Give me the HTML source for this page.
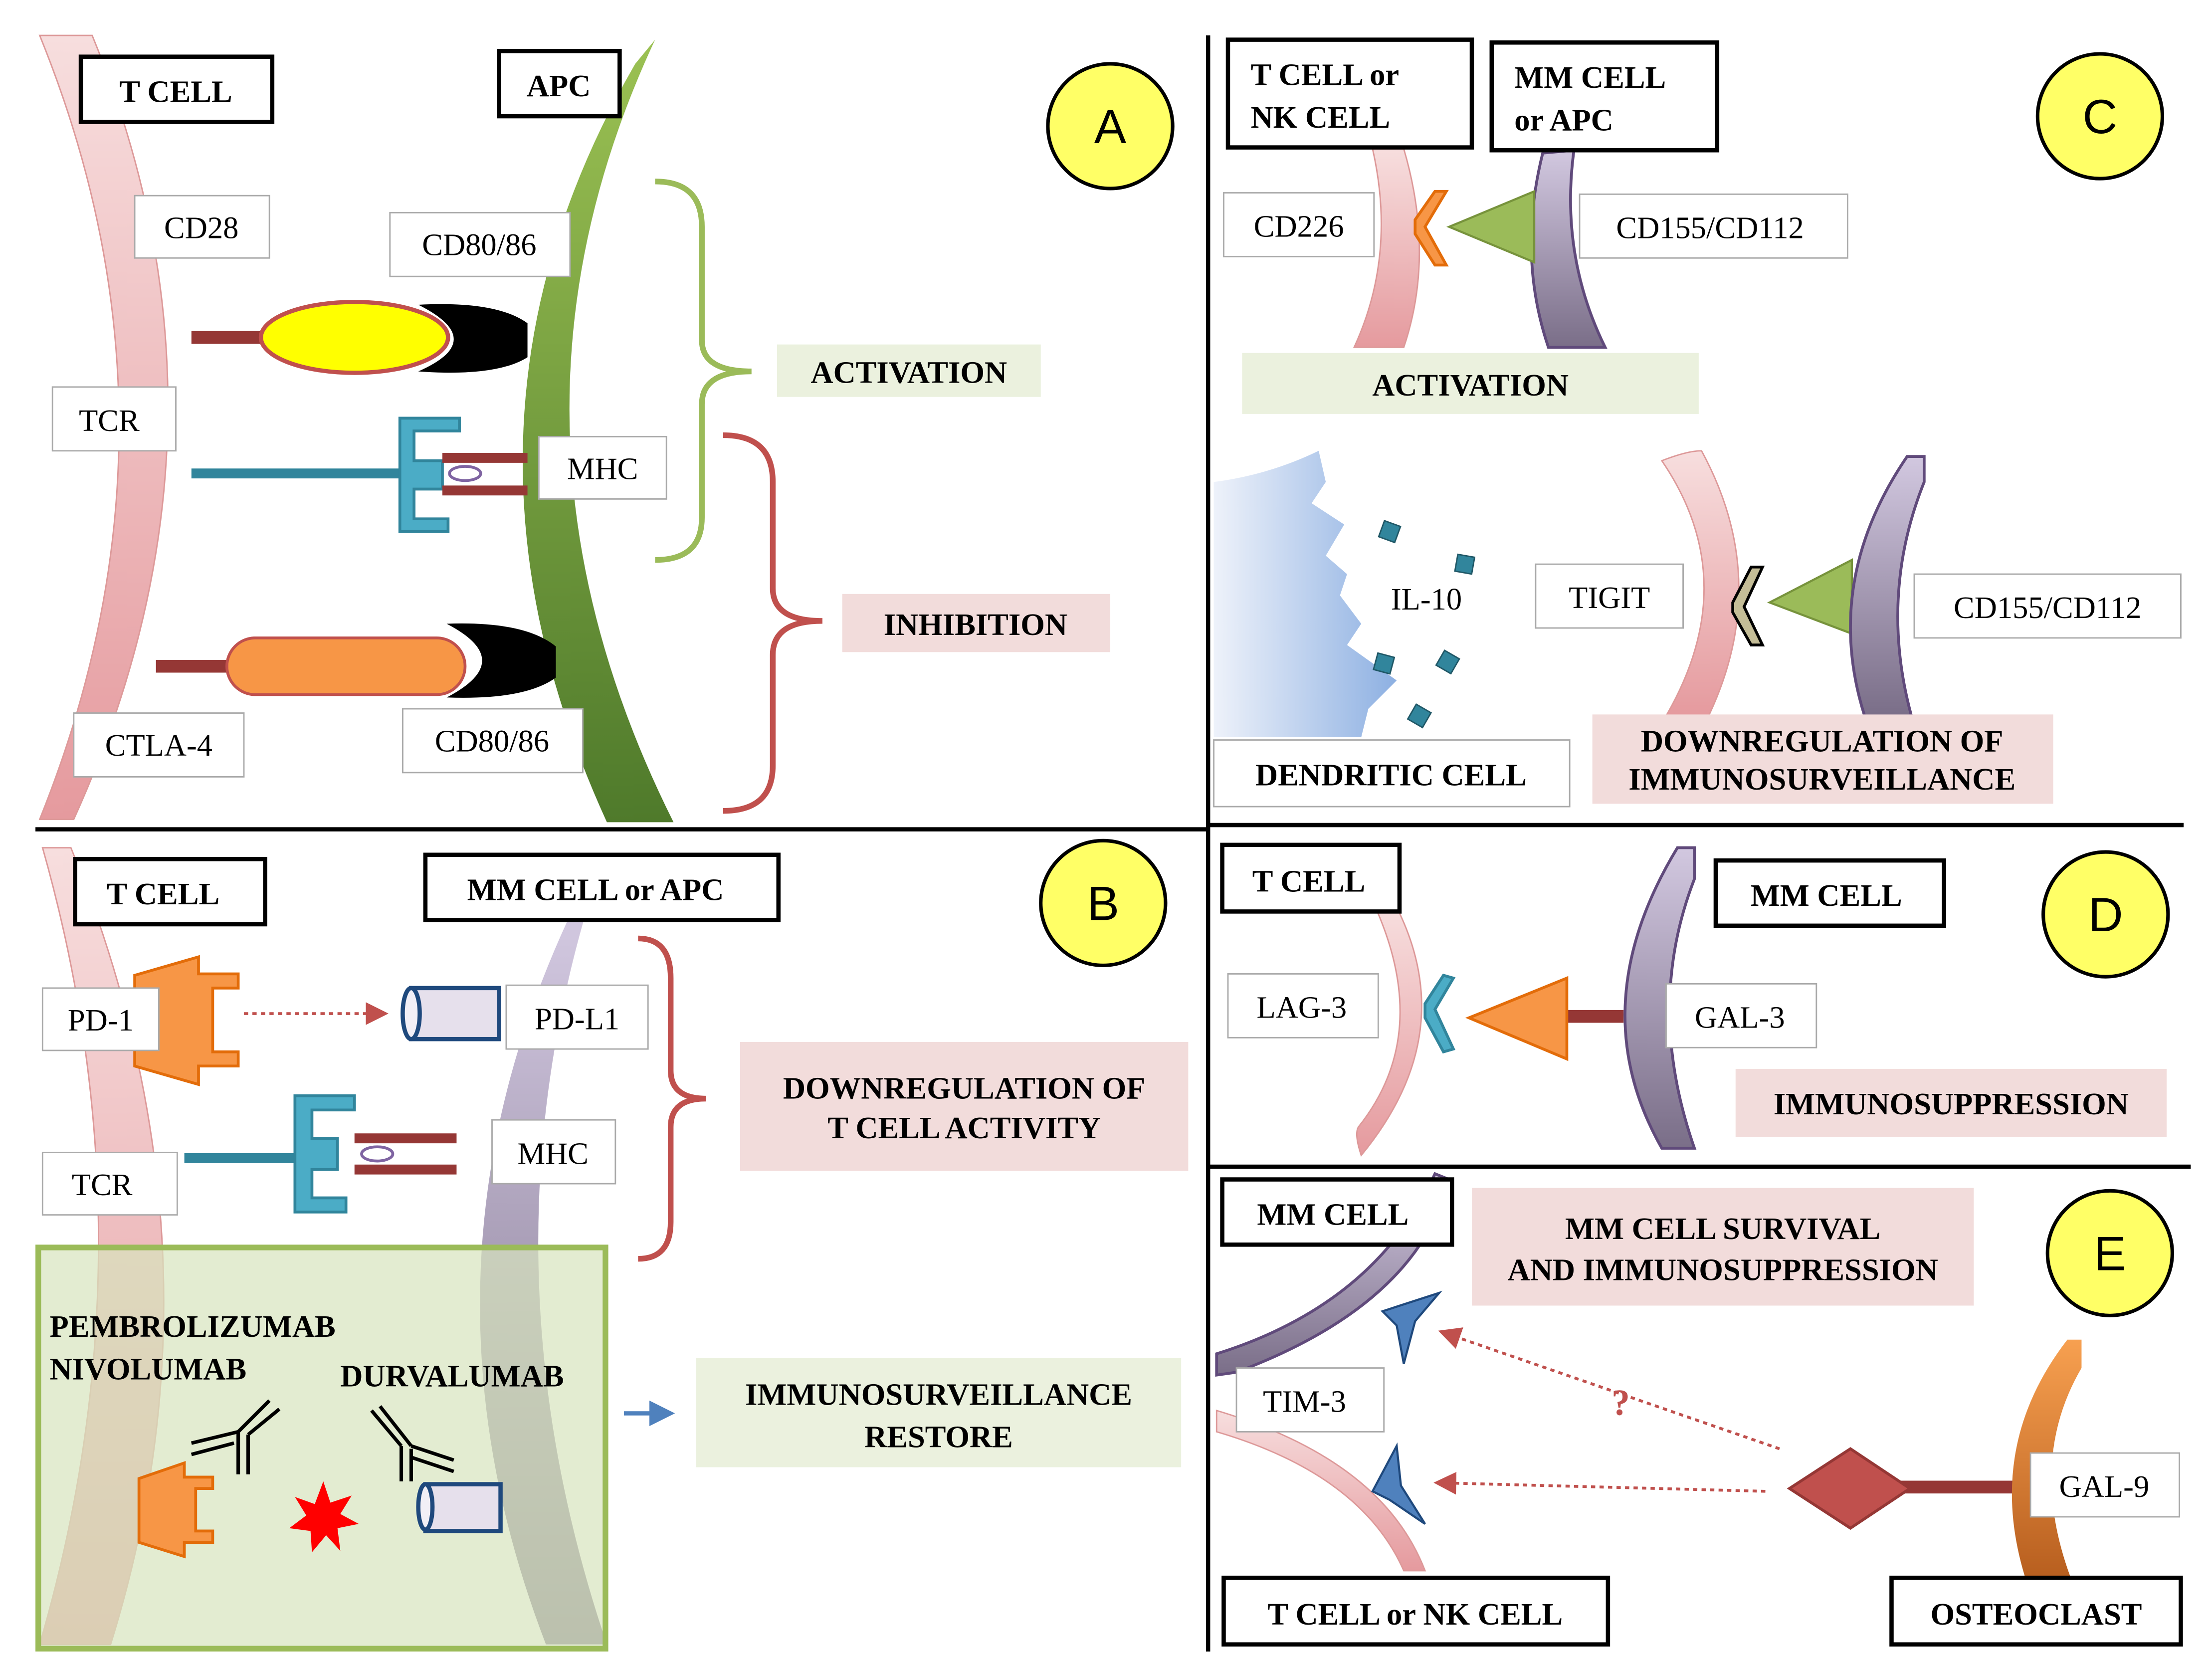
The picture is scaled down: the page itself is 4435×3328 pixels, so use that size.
<!DOCTYPE html>
<html><head><meta charset="utf-8"><style>
html,body{margin:0;padding:0;background:#fff;}
svg{display:block;}
.lb{font-family:"Liberation Serif",serif;font-size:22px;fill:#000;}
.bd{font-family:"Liberation Serif",serif;font-size:22px;font-weight:bold;fill:#000;}
.cl{font-family:"Liberation Sans",sans-serif;font-size:34px;fill:#000;}
</style></head><body>
<svg width="4435" height="3328" viewBox="0 0 1560 1171" preserveAspectRatio="none" xmlns="http://www.w3.org/2000/svg">
<defs>
<linearGradient id="pk" x1="0" y1="0" x2="0" y2="1"><stop offset="0" stop-color="#f7dede"/><stop offset="1" stop-color="#e59a9e"/></linearGradient>
<linearGradient id="gr" x1="0" y1="0" x2="0" y2="1"><stop offset="0" stop-color="#9bc153"/><stop offset="1" stop-color="#4f7a2b"/></linearGradient>
<linearGradient id="pu" x1="0" y1="0" x2="0" y2="1"><stop offset="0" stop-color="#d2c8e0"/><stop offset="1" stop-color="#7a6e88"/></linearGradient>
<linearGradient id="or" x1="0" y1="0" x2="0" y2="1"><stop offset="0" stop-color="#f7a050"/><stop offset="1" stop-color="#b85f1f"/></linearGradient>
<linearGradient id="dc" x1="0" y1="0" x2="1" y2="0"><stop offset="0" stop-color="#eef2fa"/><stop offset="1" stop-color="#8db0e2"/></linearGradient>
<marker id="ar" markerWidth="8" markerHeight="8" refX="6" refY="4" orient="auto"><path d="M0,0 L8,4 L0,8 Z" fill="#c0504d"/></marker>
<marker id="ab" markerWidth="6" markerHeight="6" refX="4" refY="3" orient="auto"><path d="M0,0 L6,3 L0,6 Z" fill="#4f81bd"/></marker>
</defs>
<rect width="1560" height="1171" fill="#fff"/>

<!-- dividers -->
<line x1="852" y1="25" x2="852" y2="1165" stroke="#000" stroke-width="3"/>
<line x1="25" y1="585" x2="852" y2="585" stroke="#000" stroke-width="3"/>
<line x1="852" y1="582" x2="1540" y2="582" stroke="#000" stroke-width="3"/>
<line x1="852" y1="823" x2="1545" y2="823" stroke="#000" stroke-width="3"/>

<!-- ===== PANEL A ===== -->
<path d="M28,25 L65,25 Q178,300 52,578 L28,578 Q140,300 28,25 Z" fill="url(#pk)" stroke="#d99" stroke-width="1"/>
<path d="M448,45 L462,28 Q335,300 475,580 L428,580 Q300,300 448,45 Z" fill="url(#gr)"/>
<rect x="57" y="40" width="135" height="46" fill="#fff" stroke="#000" stroke-width="3"/><text x="124" y="72" class="bd" text-anchor="middle">T CELL</text>
<rect x="352" y="36" width="85" height="46" fill="#fff" stroke="#000" stroke-width="3"/><text x="394" y="68" class="bd" text-anchor="middle">APC</text>
<circle cx="783" cy="89" r="44" fill="#ffff66" stroke="#000" stroke-width="2.5"/><text x="783" y="101" class="cl" text-anchor="middle">A</text>
<rect x="95" y="138" width="95" height="44" fill="#fff" stroke="#aaa"/><text x="142" y="168" class="lb" text-anchor="middle">CD28</text>
<rect x="275" y="150" width="127" height="45" fill="#fff" stroke="#aaa"/><text x="338" y="180" class="lb" text-anchor="middle">CD80/86</text>
<line x1="135" y1="238" x2="190" y2="238" stroke="#953735" stroke-width="9"/>
<path d="M295,215 Q350,212 372,228 L372,252 Q350,266 295,262 Q345,240 295,215 Z" fill="#000"/>
<ellipse cx="250" cy="238" rx="66" ry="25" fill="#ffff00" stroke="#c0504d" stroke-width="3"/>
<rect x="37" y="273" width="87" height="45" fill="#fff" stroke="#aaa"/><text x="77" y="304" class="lb" text-anchor="middle">TCR</text>
<line x1="135" y1="334" x2="285" y2="334" stroke="#31859c" stroke-width="7"/>
<path d="M282,295 L324,295 L324,304 L292,304 L292,325 L312,325 L312,345 L292,345 L292,366 L316,366 L316,375 L282,375 Z" fill="#4bacc6" stroke="#31859c" stroke-width="2"/>
<line x1="312" y1="323" x2="372" y2="323" stroke="#953735" stroke-width="7"/>
<line x1="312" y1="346" x2="372" y2="346" stroke="#953735" stroke-width="7"/>
<ellipse cx="328" cy="334" rx="11" ry="5" fill="#fff" stroke="#7f64a2" stroke-width="2"/>
<rect x="380" y="308" width="90" height="44" fill="#fff" stroke="#aaa"/><text x="425" y="338" class="lb" text-anchor="middle">MHC</text>
<path d="M462,128 Q495,128 495,160 L495,240 Q495,262 530,262 Q495,262 495,285 L495,365 Q495,395 462,395" fill="none" stroke="#9bbb59" stroke-width="4"/>
<rect x="548" y="243" width="186" height="37" fill="#ebf1de"/><text x="641" y="270" class="bd" text-anchor="middle">ACTIVATION</text>
<path d="M510,307 Q545,307 545,340 L545,415 Q545,438 580,438 Q545,438 545,462 L545,540 Q545,572 510,572" fill="none" stroke="#c0504d" stroke-width="4"/>
<rect x="594" y="419" width="189" height="41" fill="#f2dcdb"/><text x="688" y="448" class="bd" text-anchor="middle">INHIBITION</text>
<line x1="110" y1="470" x2="165" y2="470" stroke="#953735" stroke-width="9"/>
<path d="M315,440 Q370,438 392,456 L392,478 Q370,494 315,492 Q365,466 315,440 Z" fill="#000"/>
<rect x="160" y="450" width="168" height="40" rx="20" fill="#f79646" stroke="#c0504d" stroke-width="2"/>
<rect x="52" y="503" width="120" height="45" fill="#fff" stroke="#aaa"/><text x="112" y="533" class="lb" text-anchor="middle">CTLA-4</text>
<rect x="284" y="500" width="127" height="45" fill="#fff" stroke="#aaa"/><text x="347" y="530" class="lb" text-anchor="middle">CD80/86</text>

<!-- ===== PANEL B ===== -->
<path d="M30,598 L50,598 Q165,880 78,1160 L28,1160 Q110,880 30,598 Z" fill="url(#pk)" stroke="#d99" stroke-width="1"/>
<path d="M400,650 L412,648 Q340,900 428,1160 L385,1160 Q285,900 400,650 Z" fill="url(#pu)"/>
<rect x="53" y="606" width="134" height="46" fill="#fff" stroke="#000" stroke-width="3"/><text x="115" y="638" class="bd" text-anchor="middle">T CELL</text>
<rect x="300" y="603" width="249" height="46" fill="#fff" stroke="#000" stroke-width="3"/><text x="420" y="635" class="bd" text-anchor="middle">MM CELL or APC</text>
<circle cx="778" cy="637" r="44" fill="#ffff66" stroke="#000" stroke-width="2.5"/><text x="778" y="649" class="cl" text-anchor="middle">B</text>
<path d="M95,688 L140,675 L140,687 L168,687 L168,697 L150,697 L150,742 L168,742 L168,752 L140,752 L140,765 L95,752 Z" fill="#f79646" stroke="#e36c09" stroke-width="2"/>
<rect x="30" y="697" width="82" height="44" fill="#fff" stroke="#aaa"/><text x="71" y="727" class="lb" text-anchor="middle">PD-1</text>
<line x1="172" y1="715" x2="270" y2="715" stroke="#c0504d" stroke-width="2" stroke-dasharray="3,3" marker-end="url(#ar)"/>
<rect x="290" y="697" width="62" height="36" fill="#e6e0ec" stroke="#1f497d" stroke-width="3"/>
<ellipse cx="290" cy="715" rx="6" ry="18" fill="#f2eff6" stroke="#1f497d" stroke-width="3"/>
<rect x="357" y="695" width="100" height="45" fill="#fff" stroke="#aaa"/><text x="407" y="726" class="lb" text-anchor="middle">PD-L1</text>
<line x1="130" y1="817" x2="212" y2="817" stroke="#31859c" stroke-width="7"/>
<path d="M208,773 L250,773 L250,783 L220,783 L220,803 L238,803 L238,825 L220,825 L220,845 L244,845 L244,855 L208,855 Z" fill="#4bacc6" stroke="#31859c" stroke-width="2"/>
<line x1="250" y1="803" x2="322" y2="803" stroke="#953735" stroke-width="7"/>
<line x1="250" y1="825" x2="322" y2="825" stroke="#953735" stroke-width="7"/>
<ellipse cx="266" cy="814" rx="11" ry="5" fill="#fff" stroke="#7f64a2" stroke-width="2"/>
<rect x="347" y="790" width="87" height="45" fill="#fff" stroke="#aaa"/><text x="390" y="821" class="lb" text-anchor="middle">MHC</text>
<rect x="30" y="813" width="95" height="44" fill="#fff" stroke="#aaa"/><text x="72" y="843" class="lb" text-anchor="middle">TCR</text>
<path d="M450,662 Q473,662 473,690 L473,755 Q473,775 498,775 Q473,775 473,795 L473,862 Q473,888 450,888" fill="none" stroke="#c0504d" stroke-width="4"/>
<rect x="522" y="735" width="316" height="91" fill="#f2dcdb"/>
<text x="680" y="775" class="bd" text-anchor="middle">DOWNREGULATION OF</text>
<text x="680" y="803" class="bd" text-anchor="middle">T CELL ACTIVITY</text>
<rect x="27" y="880" width="400" height="283" fill="#d7e4bd" fill-opacity="0.7" stroke="#9bbb59" stroke-width="4"/>
<text x="35" y="943" class="bd">PEMBROLIZUMAB</text>
<text x="35" y="973" class="bd">NIVOLUMAB</text>
<text x="240" y="978" class="bd">DURVALUMAB</text>
<g stroke="#000" stroke-width="2.5" fill="none">
<line x1="168" y1="1040" x2="168" y2="1010"/><line x1="175" y1="1040" x2="175" y2="1012"/>
<line x1="168" y1="1010" x2="190" y2="988"/><line x1="175" y1="1012" x2="197" y2="994"/>
<line x1="168" y1="1010" x2="135" y2="1018"/><line x1="165" y1="1018" x2="135" y2="1026"/>
<line x1="283" y1="1045" x2="283" y2="1020"/><line x1="290" y1="1045" x2="290" y2="1022"/>
<line x1="283" y1="1020" x2="262" y2="995"/><line x1="290" y1="1020" x2="268" y2="992"/>
<line x1="290" y1="1020" x2="320" y2="1030"/><line x1="290" y1="1028" x2="320" y2="1038"/>
</g>
<path d="M98,1043 L130,1032 L130,1042 L150,1042 L150,1050 L138,1050 L138,1080 L150,1080 L150,1088 L130,1088 L130,1098 L98,1088 Z" fill="#f79646" stroke="#e36c09" stroke-width="2"/>
<path d="M228,1045 L233,1060 L248,1055 L240,1068 L253,1075 L238,1078 L240,1094 L230,1083 L220,1095 L219,1080 L204,1078 L216,1069 L208,1056 L222,1061 Z" fill="#ff0000"/>
<rect x="300" y="1047" width="53" height="33" fill="#e6e0ec" stroke="#1f497d" stroke-width="3"/>
<ellipse cx="300" cy="1063" rx="5" ry="16" fill="#f2eff6" stroke="#1f497d" stroke-width="3"/>
<line x1="440" y1="997" x2="470" y2="997" stroke="#4f81bd" stroke-width="3" marker-end="url(#ab)"/>
<rect x="491" y="958" width="342" height="77" fill="#ebf1de"/>
<text x="662" y="991" class="bd" text-anchor="middle">IMMUNOSURVEILLANCE</text>
<text x="662" y="1021" class="bd" text-anchor="middle">RESTORE</text>

<!-- ===== PANEL C ===== -->
<path d="M968,105 L990,105 Q1012,180 990,245 L955,245 Q985,180 968,105 Z" fill="url(#pk)" stroke="#d99" stroke-width="1"/>
<path d="M1088,108 L1110,106 Q1100,180 1132,245 L1092,245 Q1070,180 1088,108 Z" fill="url(#pu)" stroke="#604a7b" stroke-width="2"/>
<rect x="866" y="28" width="172" height="76" fill="#fff" stroke="#000" stroke-width="3"/>
<text x="882" y="60" class="bd">T CELL or</text><text x="882" y="90" class="bd">NK CELL</text>
<rect x="1052" y="30" width="159" height="76" fill="#fff" stroke="#000" stroke-width="3"/>
<text x="1068" y="62" class="bd">MM CELL</text><text x="1068" y="92" class="bd">or APC</text>
<circle cx="1481" cy="82" r="44" fill="#ffff66" stroke="#000" stroke-width="2.5"/><text x="1481" y="94" class="cl" text-anchor="middle">C</text>
<path d="M1020,135 L1005,160 L1020,187 L1012,187 L998,165 L998,155 L1012,135 Z" fill="#f79646" stroke="#e36c09" stroke-width="2"/>
<path d="M1022,160 L1082,135 L1082,185 Z" fill="#9bbb59" stroke="#77933c" stroke-width="1.5"/>
<rect x="863" y="136" width="106" height="45" fill="#fff" stroke="#aaa"/><text x="916" y="167" class="lb" text-anchor="middle">CD226</text>
<rect x="1114" y="137" width="189" height="45" fill="#fff" stroke="#aaa"/><text x="1206" y="168" class="lb" text-anchor="middle">CD155/CD112</text>
<rect x="876" y="249" width="322" height="43" fill="#ebf1de"/><text x="1037" y="279" class="bd" text-anchor="middle">ACTIVATION</text>
<path d="M856,340 Q895,335 930,318 L935,340 L925,355 L948,370 L935,392 L950,405 L945,420 L960,440 L950,455 L985,480 L965,500 L960,520 L856,520 Z" fill="url(#dc)"/>
<text x="1006" y="430" class="lb" text-anchor="middle">IL-10</text>
<g fill="#31859c" stroke="#205867" stroke-width="1">
<rect x="974" y="369" width="12" height="12" transform="rotate(20 980 375)"/>
<rect x="1027" y="392" width="12" height="12" transform="rotate(10 1033 398)"/>
<rect x="970" y="462" width="12" height="12" transform="rotate(15 976 468)"/>
<rect x="1015" y="461" width="12" height="12" transform="rotate(30 1021 467)"/>
<rect x="995" y="499" width="12" height="12" transform="rotate(30 1001 505)"/>
</g>
<rect x="1083" y="398" width="104" height="45" fill="#fff" stroke="#aaa"/><text x="1135" y="429" class="lb" text-anchor="middle">TIGIT</text>
<path d="M1172,325 Q1190,318 1200,318 Q1250,410 1205,505 L1175,505 Q1230,410 1172,325 Z" fill="url(#pk)" stroke="#d99" stroke-width="1"/>
<path d="M1243,400 L1230,428 L1243,455 L1235,455 L1222,432 L1222,425 L1235,400 Z" fill="#c4bd97" stroke="#000" stroke-width="2"/>
<path d="M1248,425 L1306,395 L1306,447 Z" fill="#9bbb59" stroke="#77933c" stroke-width="1.5"/>
<path d="M1345,322 L1357,322 L1357,340 Q1325,420 1348,505 L1315,505 Q1285,410 1345,322 Z" fill="url(#pu)" stroke="#604a7b" stroke-width="2"/>
<rect x="1350" y="405" width="188" height="45" fill="#fff" stroke="#aaa"/><text x="1444" y="436" class="lb" text-anchor="middle">CD155/CD112</text>
<rect x="856" y="522" width="251" height="47" fill="#fff" stroke="#aaa"/><text x="981" y="554" class="bd" text-anchor="middle">DENDRITIC CELL</text>
<rect x="1123" y="504" width="325" height="63" fill="#f2dcdb"/>
<text x="1285" y="530" class="bd" text-anchor="middle">DOWNREGULATION OF</text>
<text x="1285" y="557" class="bd" text-anchor="middle">IMMUNOSURVEILLANCE</text>

<!-- ===== PANEL D ===== -->
<path d="M970,640 L985,640 Q1030,730 960,815 Q955,800 958,795 Q1010,730 970,640 Z" fill="url(#pk)" stroke="#d99" stroke-width="1"/>
<path d="M1025,690 L1012,712 L1025,740 L1018,742 L1005,718 L1005,708 L1018,688 Z" fill="#4bacc6" stroke="#31859c" stroke-width="2"/>
<line x1="1105" y1="717" x2="1145" y2="717" stroke="#953735" stroke-width="9"/>
<path d="M1036,718 L1105,690 L1105,747 Z" fill="#f79646" stroke="#e36c09" stroke-width="2"/>
<path d="M1183,598 L1195,598 L1195,620 Q1160,710 1195,810 L1172,810 Q1115,710 1183,598 Z" fill="url(#pu)" stroke="#604a7b" stroke-width="2"/>
<rect x="862" y="596" width="125" height="47" fill="#fff" stroke="#000" stroke-width="3"/><text x="923" y="629" class="bd" text-anchor="middle">T CELL</text>
<rect x="1210" y="607" width="161" height="46" fill="#fff" stroke="#000" stroke-width="3"/><text x="1288" y="639" class="bd" text-anchor="middle">MM CELL</text>
<circle cx="1485" cy="645" r="44" fill="#ffff66" stroke="#000" stroke-width="2.5"/><text x="1485" y="657" class="cl" text-anchor="middle">D</text>
<rect x="866" y="687" width="106" height="45" fill="#fff" stroke="#aaa"/><text x="918" y="718" class="lb" text-anchor="middle">LAG-3</text>
<rect x="1175" y="694" width="106" height="45" fill="#fff" stroke="#aaa"/><text x="1227" y="725" class="lb" text-anchor="middle">GAL-3</text>
<rect x="1224" y="754" width="304" height="48" fill="#f2dcdb"/><text x="1376" y="786" class="bd" text-anchor="middle">IMMUNOSUPPRESSION</text>

<!-- ===== PANEL E ===== -->
<path d="M1012,828 L1022,832 Q1000,920 872,968 L858,970 L858,955 Q970,920 1012,828 Z" fill="url(#pu)" stroke="#604a7b" stroke-width="2"/>
<path d="M858,995 Q975,1030 1005,1108 L990,1108 Q960,1040 858,1010 Z" fill="url(#pk)" stroke="#d99" stroke-width="1"/>
<rect x="862" y="832" width="162" height="46" fill="#fff" stroke="#000" stroke-width="3"/><text x="940" y="864" class="bd" text-anchor="middle">MM CELL</text>
<rect x="1038" y="838" width="354" height="83" fill="#f2dcdb"/>
<text x="1215" y="874" class="bd" text-anchor="middle">MM CELL SURVIVAL</text>
<text x="1215" y="903" class="bd" text-anchor="middle">AND IMMUNOSUPPRESSION</text>
<circle cx="1488" cy="884" r="44" fill="#ffff66" stroke="#000" stroke-width="2.5"/><text x="1488" y="896" class="cl" text-anchor="middle">E</text>
<path d="M975,925 L1015,912 L998,932 L990,962 L985,935 Z" fill="#4f81bd" stroke="#1f497d" stroke-width="1.5"/>
<path d="M968,1052 L985,1020 L988,1048 L1005,1075 L980,1058 Z" fill="#4f81bd" stroke="#1f497d" stroke-width="1.5"/>
<rect x="872" y="965" width="104" height="45" fill="#fff" stroke="#aaa"/><text x="920" y="996" class="lb" text-anchor="middle">TIM-3</text>
<line x1="1255" y1="1022" x2="1018" y2="940" stroke="#c0504d" stroke-width="2" stroke-dasharray="3,3" marker-end="url(#ar)"/>
<text x="1143" y="998" class="bd" fill="#c0504d" style="fill:#c0504d;font-size:26px" text-anchor="middle">?</text>
<line x1="1245" y1="1052" x2="1015" y2="1046" stroke="#c0504d" stroke-width="2" stroke-dasharray="3,3" marker-end="url(#ar)"/>
<line x1="1340" y1="1049" x2="1422" y2="1049" stroke="#953735" stroke-width="9"/>
<path d="M1262,1050 L1305,1022 L1347,1050 L1305,1078 Z" fill="#c0504d" stroke="#953735" stroke-width="2"/>
<path d="M1458,945 L1468,945 L1468,965 Q1430,1030 1460,1112 L1428,1112 Q1400,1020 1458,945 Z" fill="url(#or)"/>
<rect x="1432" y="1025" width="105" height="45" fill="#fff" stroke="#aaa"/><text x="1484" y="1056" class="lb" text-anchor="middle">GAL-9</text>
<rect x="863" y="1113" width="271" height="47" fill="#fff" stroke="#000" stroke-width="3"/><text x="998" y="1146" class="bd" text-anchor="middle">T CELL or NK CELL</text>
<rect x="1334" y="1113" width="204" height="47" fill="#fff" stroke="#000" stroke-width="3"/><text x="1436" y="1146" class="bd" text-anchor="middle">OSTEOCLAST</text>
</svg>
</body></html>
